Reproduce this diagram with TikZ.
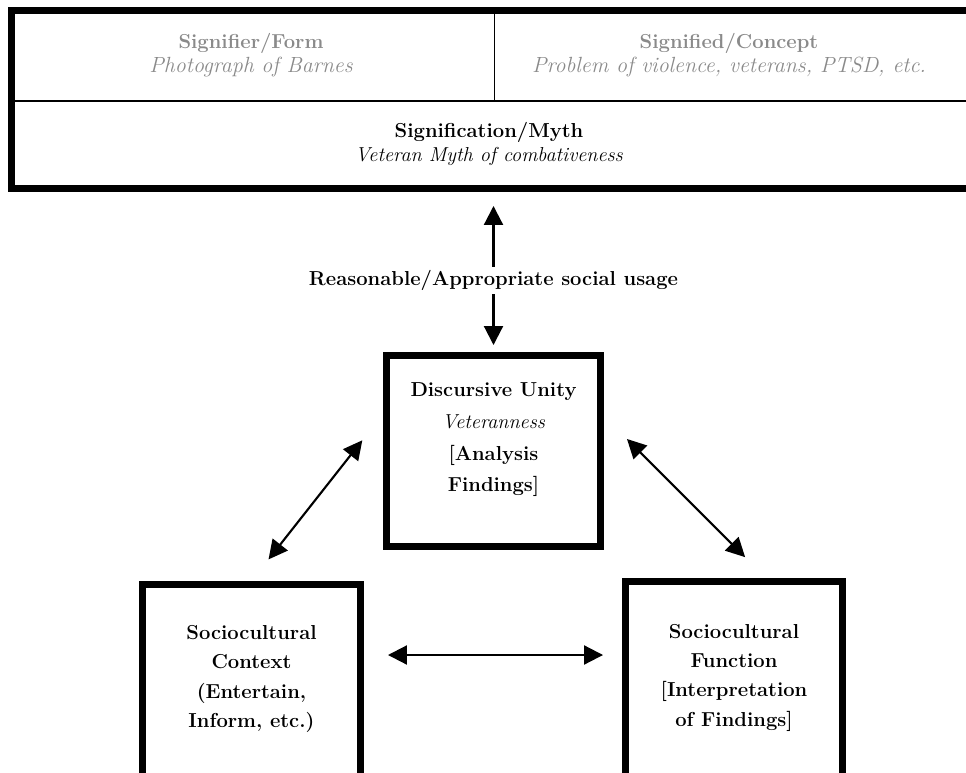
\documentclass[tikz,border=0pt]{standalone}
\usepackage{fontspec}
\usepackage{amsmath,amssymb}
\usetikzlibrary{arrows.meta}
\definecolor{formgray}{HTML}{8A8A8A}
\newcommand{\mythit}[1]{{\mdseries\itshape\addfontfeature{LetterSpace=3}#1}}
\newcommand{\formit}[1]{{\mdseries\itshape\fontsize{12.5}{13.7}\selectfont\addfontfeature{LetterSpace=10}#1}}

\begin{document}
\begin{tikzpicture}[x=0.02cm,y=-0.02cm,>={Triangle[length=0.38cm,width=0.38cm]},
    unitbox/.style={draw,line width=0.14cm,inner sep=0pt},
    boxtext/.style={align=center,font=\fontsize{11.5}{16.7}\selectfont\bfseries},
    celltext/.style={align=center,text=formgray,font=\fontsize{11.5}{13.7}\selectfont\bfseries},
    dbl/.style={<->,line width=1.2pt},
    rule/.style={line width=0.03cm}]
  \useasboundingbox (0,0) rectangle (966,773);
  \clip (0,0) rectangle (966,773);
  % sign / myth table
  \node[unitbox,minimum width=19.77cm,minimum height=3.57cm] (myth) at (505.75,99.75) {};
  \draw[rule] (494.5,14) -- (494.5,101);
  \draw[rule] (15,101) -- (1000,101);
  \node[celltext] (signifier) at (251,55) {Signifier/Form\\ \formit{Photograph of Barnes}};
  \node[celltext] (signified) at (729,55) {Signified/Concept\\ \formit{Problem of violence, veterans, PTSD, etc.}};
  \node[boxtext,font=\fontsize{11.5}{13.7}\selectfont\bfseries] (signification) at (489,144)
    {Signification/Myth\\ \mythit{Veteran Myth of combativeness}};
  % the three boxes
  \node[unitbox,minimum width=4.28cm,minimum height=3.82cm] (unity) at (493.5,451) {};
  \node[unitbox,minimum width=4.36cm,minimum height=4.4cm] (context) at (251.5,694.5) {};
  \node[unitbox,minimum width=4.34cm,minimum height=4.4cm] (function) at (734,691.5) {};
  \node[boxtext,font=\fontsize{11.5}{18}\selectfont\bfseries] (unitytext) at (493.5,440)
    {Discursive Unity\\ \mythit{Veteranness}\\ {[}Analysis\\ Findings]};
  \node[boxtext] (contexttext) at (251.5,679) {Sociocultural\\ Context\\ (Entertain,\\ Inform, etc.)};
  \node[boxtext] (functiontext) at (734,677.5) {Sociocultural\\ Function\\ {[}Interpretation\\ of Findings]};
  % arrows
  \coordinate (mid) at (495,655);
  \draw[dbl,shorten <=0.27cm,shorten >=0.14cm] (myth.south -| unity.north) -- node[pos=0.55,fill=white,inner sep=2pt,boxtext] (usage) {Reasonable/Appropriate social usage} (unity.north);
  \draw[dbl,shorten <=0.55cm,shorten >=0.67cm] (context.north) -- ([yshift=0.74cm]unity.west);
  \draw[dbl,shorten <=0.65cm,shorten >=0.59cm] ([yshift=0.7cm]unity.east) -- ([xshift=0.64cm]function.north);
  \draw[dbl,shorten <=0.48cm,shorten >=0.38cm] (context.east |- mid) -- (function.west |- mid);
\end{tikzpicture}
\end{document}
